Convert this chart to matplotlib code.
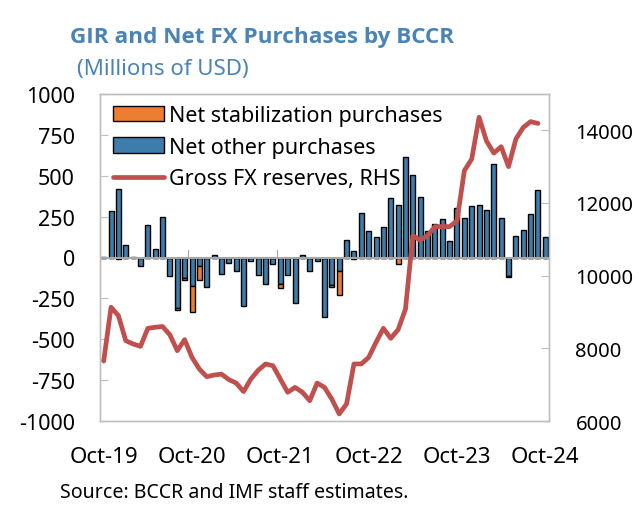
import matplotlib
matplotlib.use("Agg")
import matplotlib.pyplot as plt
import numpy as np
from matplotlib.patches import Patch
from matplotlib.lines import Line2D

plt.rcParams['font.family'] = ['Noto Sans', 'DejaVu Sans']
plt.rcParams['axes.unicode_minus'] = False

# Monthly data, Oct-2019 .. Oct-2024 (61 months)
net_other = [4, 283, 420, 74, 4, -51, 197, 55, 248, -113,
             -310, -123, -174, -55, -178, 16, -98, -31, -82, -297,
             -20, -109, -164, -37, -164, -109, -281, 14, -84, -23,
             -362, -170, -80, 105, 39, 275, 160, 128, 184, 363,
             323, 613, 505, 369, 165, 203, 238, 101, 305, 240,
             315, 320, 293, 571, 239, -113, 133, 171, 265, 412,
             123]
net_stab = [0, 0, -10, 0, 0, 0, 0, 0, 0, 0,
            -12, -16, -160, -82, 0, 0, 0, 0, 0, 0,
            0, 0, 0, 0, -25, 0, 0, 0, 0, 0,
            0, -12, -152, 0, -8, 0, 0, 0, 0, 0,
            -40, 0, 0, 0, 0, 0, 0, 0, 0, 0,
            0, 0, 0, 0, 0, -5, 0, 0, 0, 0,
            0]
reserves = [7650, 9130, 8900, 8210, 8120, 8055, 8550, 8580, 8600, 8370,
            7935, 8240, 7750, 7430, 7220, 7265, 7290, 7140, 7045, 6810,
            7155, 7400, 7570, 7520, 7155, 6790, 6925, 6790, 6560, 7045,
            6925, 6600, 6195, 6470, 7570, 7570, 7750, 8165, 8550, 8275,
            8515, 9080, 11100, 10980, 11100, 11350, 11350, 11350, 11510, 12890,
            13210, 14360, 13710, 13375, 13550, 13000, 13760, 14080, 14240, 14190]
tick_labels = ["Oct-19", "Oct-20", "Oct-21", "Oct-22", "Oct-23", "Oct-24"]

BLUE = '#3c7dab'
ORANGE = '#ed7d31'
RED = '#c0504d'
TITLE = '#4a84b6'
GRID = '#bfbfbf'

n = len(net_other)
x = np.arange(n)
no = np.array(net_other, float)
ns = np.array(net_stab, float)
stab_bottom = np.where(np.sign(ns) == np.sign(no), no, 0.0)

fig = plt.figure(figsize=(6.39, 5.10), dpi=100)
ax = fig.add_axes([100/639, 1-422/510, 449/639, 327/510])
ax2 = ax.twinx()

ax.bar(x, no, width=0.68, color=BLUE, edgecolor='black', linewidth=1.0, zorder=2)
ax.bar(x, ns, bottom=stab_bottom, width=0.68, color=ORANGE, edgecolor='black', linewidth=1.0, zorder=2)
ax.axhline(0, color='#a6a6a6', lw=1.5, zorder=3)
for k in range(12, n, 12):
    ax.plot([k-0.5, k-0.5], [0, 45], color='#a6a6a6', lw=0.8, zorder=3)

ax.set_xlim(-0.5, n-0.5)
ax.set_ylim(-1000, 1000)
ax.set_yticks(np.arange(-1000, 1001, 250))
ax.set_xticks(np.arange(0, n, 12))
ax.set_xticklabels(tick_labels)

ax2.plot(np.arange(len(reserves)), reserves, color=RED, lw=3.4, solid_capstyle='round', zorder=4)
ax2.set_ylim(6000, 15000)
ax2.set_yticks(np.arange(6000, 14001, 2000))

for a in (ax, ax2):
    for s in a.spines.values():
        s.set_color(GRID)
        s.set_linewidth(1.0)
ax.tick_params(axis='y', direction='in', length=6, color=GRID, labelsize=15.5, pad=18)
ax.tick_params(axis='x', length=0, labelsize=16, pad=18)
ax2.tick_params(axis='y', direction='in', length=6, color=GRID, labelsize=14.5, pad=19)

handles = [Patch(facecolor=ORANGE, edgecolor='black', linewidth=1.0),
           Patch(facecolor=BLUE, edgecolor='black', linewidth=1.0),
           Line2D([0], [0], color=RED, lw=3.4, solid_capstyle='round')]
labels = ["Net stabilization purchases", "Net other purchases", "Gross FX reserves, RHS"]
ax2.legend(handles, labels, loc='upper left', bbox_to_anchor=(0.005, 1.0), frameon=False,
           fontsize=15.5, handlelength=2.35, handleheight=0.7, handletextpad=0.25,
           labelspacing=0.5, borderaxespad=0.3, borderpad=0.2)

fig.text(70/639, 1-37/510, "GIR and Net FX Purchases by BCCR", color=TITLE,
         fontsize=16.2, fontweight='bold', family=['Open Sans', 'Lato', 'DejaVu Sans'],
         va='center', ha='left')
fig.text(77/639, 1-70/510, "(Millions of USD)", color=TITLE,
         fontsize=16, va='center', ha='left')
fig.text(60/639, 1-493/510, "Source: BCCR and IMF staff estimates.", color='black',
         fontsize=14.1, va='center', ha='left')

fig.savefig("out.png", dpi=100)
